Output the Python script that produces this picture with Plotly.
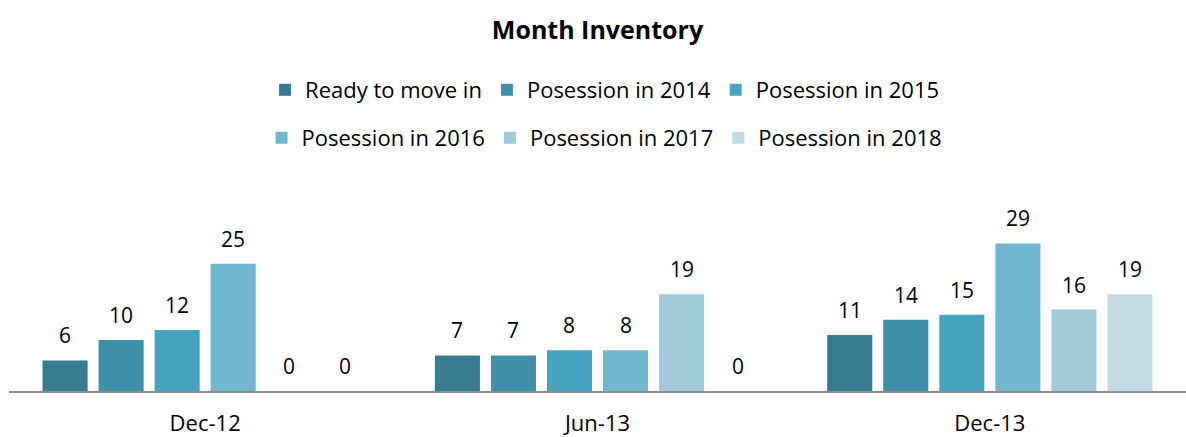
import plotly.graph_objects as go

categories = ["Dec-12", "Jun-13", "Dec-13"]
series_names = ["Ready to move in", "Posession in 2014", "Posession in 2015",
                "Posession in 2016", "Posession in 2017", "Posession in 2018"]
ready = [6, 7, 11]
pos2014 = [10, 7, 14]
pos2015 = [12, 8, 15]
pos2016 = [25, 8, 29]
pos2017 = [0, 19, 16]
pos2018 = [0, 0, 19]
series_values = [ready, pos2014, pos2015, pos2016, pos2017, pos2018]
colors = ["#367B8F", "#3F8FA9", "#47A4BF", "#71B6CC", "#A1CADA", "#C3DCE4"]

FONT = "Open Sans"
BARGAP = 0.143
BARGROUPGAP = 0.196

fig = go.Figure()
for k, (name, vals, col) in enumerate(zip(series_names, series_values, colors)):
    fig.add_trace(go.Bar(
        x=categories, y=vals, name=name,
        marker=dict(color=col, line=dict(width=0)),
        legend="legend" if k < 3 else "legend2",
        hoverinfo="x+y+name",
    ))

n = len(series_values)
slot = (1 - BARGAP) / n
annotations = []
for k, vals in enumerate(series_values):
    for i, v in enumerate(vals):
        annotations.append(dict(
            x=i + (k - (n - 1) / 2) * slot, y=v, xref="x", yref="y",
            text=str(v), showarrow=False, yanchor="bottom", yshift=9,
            font=dict(family=FONT, size=21, color="#000000"),
        ))

fig.update_layout(
    width=1186, height=437,
    margin=dict(l=9, r=0, t=218, b=46),
    paper_bgcolor="white", plot_bgcolor="white",
    barmode="group", bargap=BARGAP, bargroupgap=BARGROUPGAP,
    font=dict(family=FONT, size=20, color="#000000"),
    title=dict(text="<b>Month Inventory</b>", x=0.5, xref="paper", xanchor="center",
               y=1 - 30 / 437, yanchor="middle", yref="container",
               font=dict(family=FONT, size=25, color="#000000")),
    legend=dict(orientation="h", xref="paper", x=0.506, xanchor="center",
                yref="container", y=1 - 90 / 437, yanchor="middle",
                font=dict(family=FONT, size=22), itemclick=False),
    legend2=dict(orientation="h", xref="paper", x=0.506, xanchor="center",
                 yref="container", y=1 - 138 / 437, yanchor="middle",
                 font=dict(family=FONT, size=22), itemclick=False),
    xaxis=dict(type="category", showline=True, linecolor="#8C8C8C", linewidth=2,
               showgrid=False, ticks="", ticklabelstandoff=12, automargin=False,
               tickfont=dict(family=FONT, size=22, color="#000000")),
    yaxis=dict(range=[0, 34], visible=False, showgrid=False, zeroline=False,
               automargin=False),
    annotations=annotations,
    showlegend=True,
)

fig.write_html("out.html", config={"displayModeBar": False},
               post_script="document.body.style.margin='0';document.body.style.padding='0';")
